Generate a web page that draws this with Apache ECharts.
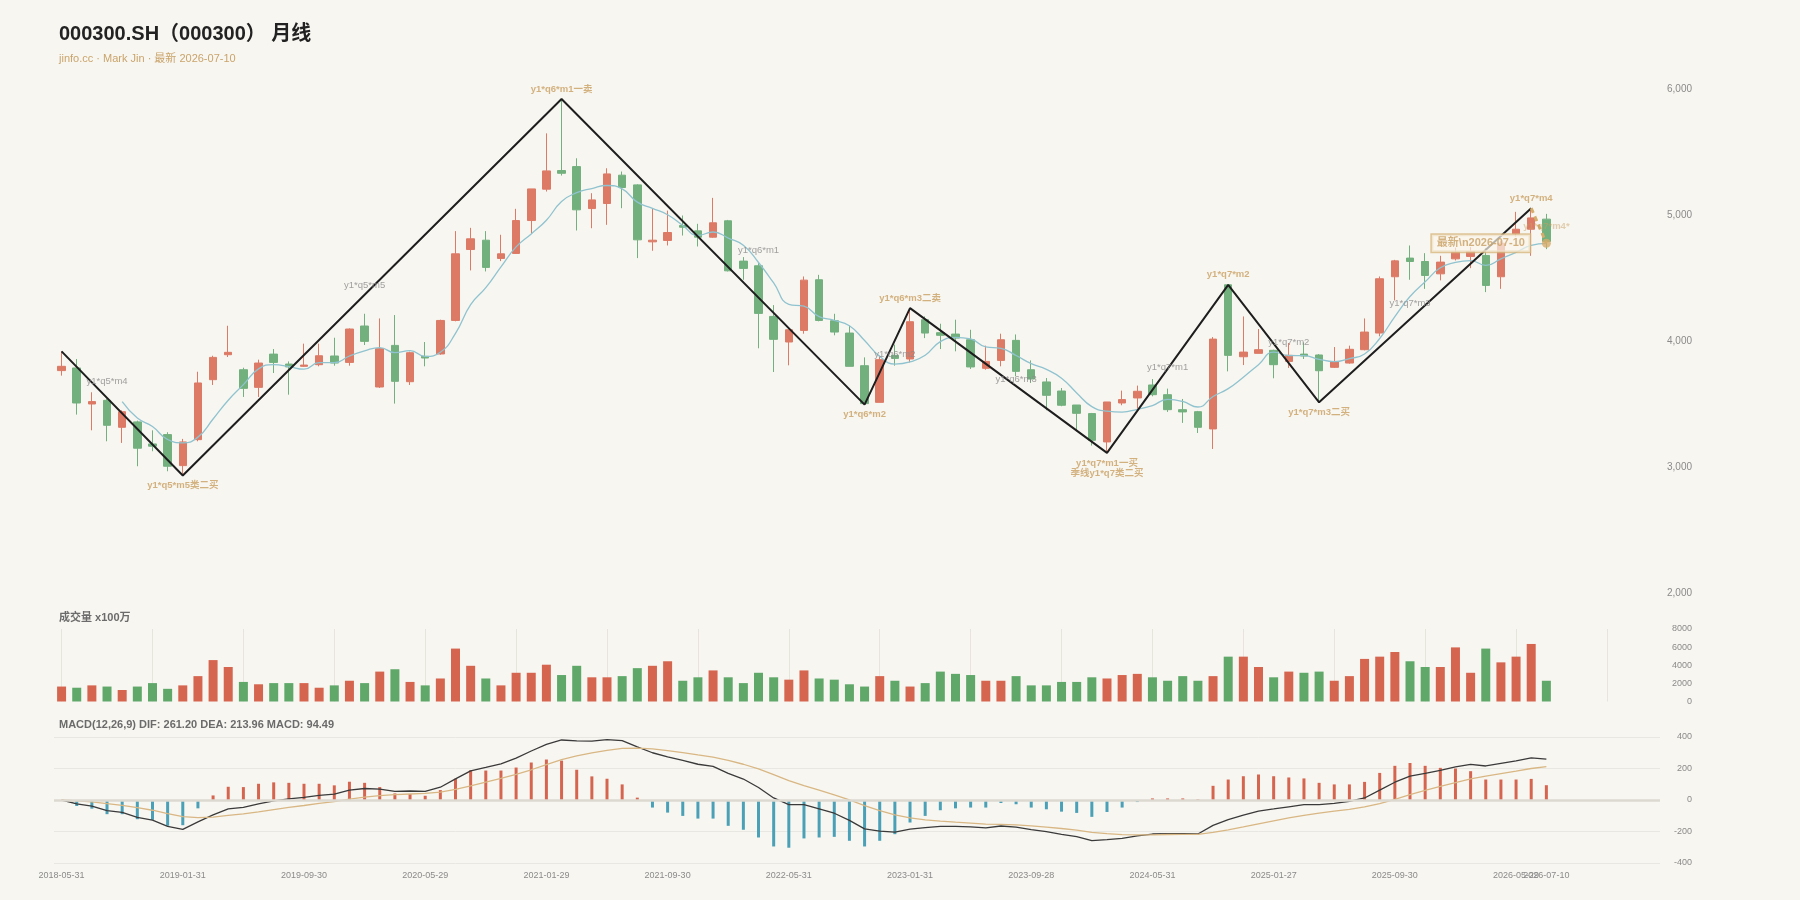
<!DOCTYPE html>
<html>
<head>
<meta charset="utf-8">
<title>000300.SH 月线</title>
<script src="https://cdn.jsdelivr.net/npm/echarts@6/dist/echarts.min.js"></script>
<style>
  html, body { margin: 0; padding: 0; background: #f8f6f1; }
  #chart { width: 1800px; height: 900px; }
</style>
</head>
<body>
<div id="chart"></div>
<script>
// 月线日期
const dates = [
  '2018-05-31','2018-06-29','2018-07-31','2018-08-31','2018-09-28','2018-10-31','2018-11-30','2018-12-28',
  '2019-01-31','2019-02-28','2019-03-29','2019-04-30','2019-05-31','2019-06-28','2019-07-31','2019-08-30',
  '2019-09-30','2019-10-31','2019-11-29','2019-12-31','2020-01-23','2020-02-28','2020-03-31','2020-04-30',
  '2020-05-29','2020-06-30','2020-07-31','2020-08-31','2020-09-30','2020-10-30','2020-11-30','2020-12-31',
  '2021-01-29','2021-02-26','2021-03-31','2021-04-30','2021-05-31','2021-06-30','2021-07-30','2021-08-31',
  '2021-09-30','2021-10-29','2021-11-30','2021-12-31','2022-01-28','2022-02-28','2022-03-31','2022-04-29',
  '2022-05-31','2022-06-30','2022-07-29','2022-08-31','2022-09-30','2022-10-31','2022-11-30','2022-12-30',
  '2023-01-31','2023-02-28','2023-03-31','2023-04-28','2023-05-31','2023-06-30','2023-07-31','2023-08-31',
  '2023-09-28','2023-10-31','2023-11-30','2023-12-29','2024-01-31','2024-02-29','2024-03-29','2024-04-30',
  '2024-05-31','2024-06-28','2024-07-31','2024-08-30','2024-09-30','2024-10-31','2024-11-29','2024-12-31',
  '2025-01-27','2025-02-28','2025-03-31','2025-04-30','2025-05-30','2025-06-30','2025-07-31','2025-08-29',
  '2025-09-30','2025-10-31','2025-11-28','2025-12-31','2026-01-30','2026-02-27','2026-03-31','2026-04-30',
  '2026-05-29','2026-06-30','2026-07-10'
];

// [开, 收, 低, 高]
const candles = [
  [3769,3803,3729,3922],[3790,3512,3420,3861],[3504,3523,3295,3597],[3533,3335,3208,3544],
  [3319,3443,3195,3454],[3362,3153,3010,3372],[3187,3169,3129,3295],[3261,3010,2970,3280],
  [3015,3203,2936,3227],[3221,3671,3208,3760],[3697,3874,3655,3887],[3895,3914,3877,4125],
  [3776,3628,3560,3792],[3636,3829,3560,3856],[3900,3834,3750,3940],[3821,3798,3578,3842],
  [3803,3813,3798,3983],[3816,3887,3803,3983],[3885,3829,3808,4030],[3834,4099,3808,4104],
  [4123,4001,3972,4220],[3639,3943,3631,4183],[3969,3684,3507,4210],[3681,3911,3655,3919],
  [3882,3869,3803,3996],[3901,4167,3895,4173],[4167,4696,4160,4876],[4730,4815,4564,4902],
  [4804,4588,4556,4876],[4659,4696,4638,4847],[4699,4960,4696,5053],[4960,5211,4854,5211],
  [5209,5354,5190,5652],[5357,5335,5317,5925],[5388,5045,4881,5454],[5055,5124,4899,5177],
  [5095,5330,4926,5375],[5320,5222,5058,5349],[5243,4807,4662,5248],[4791,4804,4720,5058],
  [4802,4865,4762,5039],[4921,4907,4841,5000],[4878,4828,4754,4934],[4828,4942,4823,5140],
  [4958,4561,4556,4965],[4638,4580,4490,4670],[4601,4223,3946,4622],[4199,4017,3758,4289],
  [3996,4093,3811,4096],[4088,4487,4062,4516],[4490,4167,4160,4529],[4165,4075,4049,4220],
  [4067,3803,3803,4125],[3808,3507,3499,3874],[3517,3856,3517,3887],[3890,3866,3808,3975],
  [3861,4157,3834,4265],[4173,4067,4027,4199],[4070,4049,3940,4141],[4059,4027,3922,4173],
  [4014,3798,3782,4093],[3787,3842,3776,3967],[3850,4014,3803,4062],[4009,3763,3724,4056],
  [3776,3702,3671,3850],[3679,3573,3454,3710],[3607,3494,3486,3631],[3496,3430,3288,3496],
  [3428,3216,3174,3433],[3203,3520,3116,3520],[3512,3539,3494,3610],[3552,3605,3467,3650],
  [3655,3578,3565,3702],[3578,3459,3441,3626],[3459,3441,3354,3544],[3443,3319,3274,3449],
  [3306,4019,3147,4035],[4450,3890,3763,4450],[3879,3916,3813,4199],[3906,3935,3906,4099],
  [3930,3816,3708,3935],[3842,3890,3790,3988],[3900,3885,3861,3993],[3893,3768,3517,3900],
  [3795,3840,3790,3956],[3829,3938,3824,3967],[3935,4075,3930,4183],[4067,4498,4041,4516],
  [4514,4640,4326,4648],[4662,4635,4490,4762],[4635,4524,4418,4701],[4537,4630,4485,4680],
  [4656,4709,4643,4745],[4675,4714,4582,4750],[4683,4445,4392,4741],[4514,4780,4418,4800],
  [4854,4891,4833,5029],[4891,4981,4680,5058],[4971,4794,4733,5013]
];

// 成交量 x100万
const volumes = [
  1650,1520,1780,1650,1270,1650,2030,1400,1780,2800,4570,3810,2160,1900,2030,2030,
  2030,1520,1780,2290,2030,3300,3560,2160,1780,2540,5840,3940,2540,1780,3170,3170,
  4060,2920,3940,2670,2670,2800,3680,3940,4440,2290,2670,3430,2670,2030,3170,2670,
  2410,3430,2540,2410,1900,1650,2800,2290,1650,2030,3300,3050,2920,2290,2290,2800,
  1780,1780,2160,2160,2670,2540,2920,3050,2670,2290,2800,2290,2800,4950,4950,3810,
  2670,3300,3170,3300,2290,2800,4700,4950,5460,4440,3810,3810,5970,3170,5840,4320,
  4950,6350,2290
];

// MA5
const ma5 = [
  null,null,null,null,3523,3393,3325,3222,3196,3241,3385,3534,3658,3783,3816,3801,
  3780,3832,3832,3885,3926,3952,3911,3928,3882,3915,4065,4292,4427,4592,4751,4854,
  4962,5111,5181,5214,5238,5211,5106,5057,5006,4921,4842,4869,4821,4764,4627,4465,
  4295,4280,4197,4168,4125,4008,3882,3821,3838,3891,3999,4033,4020,3957,3946,3889,
  3824,3779,3709,3592,3483,3447,3440,3462,3492,3540,3524,3480,3563,3626,3717,3816,
  3915,3889,3888,3859,3840,3864,3901,4024,4198,4357,4474,4585,4628,4642,4604,4656,
  4708,4762,4778
];

// MACD(12,26,9)
const dif = [
  0,-24,-39,-68,-79,-110,-128,-168,-186,-139,-94,-56,-47,-24,-5,7,
  17,30,37,63,73,69,55,57,55,81,134,185,207,230,266,311,
  353,381,376,374,383,377,337,300,274,251,227,213,169,133,79,13,
  -29,-30,-56,-84,-129,-183,-198,-204,-185,-176,-167,-167,-171,-177,-165,-172,
  -188,-201,-218,-232,-258,-252,-244,-228,-216,-214,-213,-216,-161,-125,-96,-70,
  -57,-43,-29,-29,-22,-9,13,63,113,151,169,188,211,226,216,232,
  248,267,259
];
const dea = [
  0,-5,-12,-23,-34,-49,-65,-86,-106,-112,-109,-98,-88,-75,-61,-47,
  -35,-22,-10,5,18,28,34,38,42,50,67,90,114,137,163,192,
  225,256,280,299,315,328,330,324,314,301,286,272,251,227,198,161,
  123,92,63,33,1,-36,-68,-95,-113,-126,-134,-141,-147,-153,-155,-158,
  -164,-172,-181,-191,-205,-214,-220,-222,-221,-219,-218,-218,-206,-190,-171,-151,
  -132,-114,-97,-83,-71,-59,-44,-23,4,34,61,86,111,134,151,167,
  183,200,212
];
const macdHist = [
  0,-38,-55,-90,-90,-122,-126,-164,-160,-53,29,84,82,103,112,109,
  103,103,93,116,109,82,42,38,27,63,135,189,187,187,206,238,
  257,250,192,150,135,99,15,-48,-80,-101,-118,-118,-164,-189,-238,-295,
  -303,-244,-238,-234,-259,-295,-259,-217,-143,-101,-65,-53,-48,-48,-19,-27,
  -48,-59,-74,-82,-107,-76,-48,-13,10,10,10,4,90,130,151,162,
  151,143,137,109,99,99,115,172,217,235,217,204,200,183,130,130,
  130,134,94
];

// 笔的端点 [序号, 价格, 标注, 位置]
const pivots = [
  [0, 3922, '', 'top'],
  [8, 2936, 'y1*q5*m5类二买', 'bottom'],
  [33, 5925, 'y1*q6*m1一卖', 'top'],
  [53, 3499, 'y1*q6*m2', 'bottom'],
  [56, 4265, 'y1*q6*m3二卖', 'top'],
  [69, 3116, 'y1*q7*m1一买\n季线y1*q7类二买', 'bottom'],
  [77, 4450, 'y1*q7*m2', 'top'],
  [83, 3517, 'y1*q7*m3二买', 'bottom'],
  [97, 5058, 'y1*q7*m4', 'top']
];
// 未完成的一笔
const pendingStroke = [[97, 5058], [98, 4780]];
const pendingNote = [98, 4910, 'y1*q7*m4*'];

// 笔的名称
const segNotes = [
  [3, 3681, 'y1*q5*m4'],
  [20, 4442, 'y1*q5*m5'],
  [46, 4720, 'y1*q6*m1'],
  [55, 3895, 'y1*q6*m2'],
  [63, 3697, 'y1*q6*m3'],
  [73, 3792, 'y1*q7*m1'],
  [81, 3990, 'y1*q7*m2'],
  [89, 4300, 'y1*q7*m3']
];

const latestLabel = '最新\\n2026-07-10';

const UP = '#dc7a66';
const DOWN = '#72b07e';
const VOL_UP = '#d6654f';
const VOL_DOWN = '#5fa86a';
const TAN = '#c9a063';
const FONT = '"Liberation Sans", Arial, "Noto Sans CJK SC", sans-serif';

const categories = dates.concat(['', '', '', '', '', '', '']);
const lastIdx = dates.length - 1;

const volData = volumes.map((v, i) => ({
  value: v,
  itemStyle: { color: candles[i][1] >= candles[i][0] ? VOL_UP : VOL_DOWN }
}));
const histData = macdHist.map(v => ({
  value: v,
  itemStyle: { color: v >= 0 ? VOL_UP : '#4aa0b6' }
}));

const chart = echarts.init(document.getElementById('chart'));

const gridL = 54, gridR = 140;
const dateLabel = { show: true, color: '#8a8a8a', fontSize: 9, fontFamily: FONT, margin: 8, hideOverlap: false };

const catAxis = (gridIndex, extra) => Object.assign({
  type: 'category',
  gridIndex,
  data: categories,
  boundaryGap: true,
  axisLine: { show: false },
  axisTick: { show: false },
  axisLabel: { show: false },
  splitLine: { show: false },
  axisPointer: { show: false }
}, extra);

const yLabel = (size, extra) => Object.assign({
  color: '#8a8a8a', fontSize: size, fontFamily: FONT, margin: 32, align: 'right'
}, extra);

const valAxis = (gridIndex, extra) => Object.assign({
  type: 'value',
  gridIndex,
  position: 'right',
  axisLine: { show: false },
  axisTick: { show: false },
  splitLine: { show: false }
}, extra);

const option = {
  animation: false,
  backgroundColor: '#f8f6f1',
  textStyle: { fontFamily: FONT },
  title: [
    {
      text: '000300.SH（000300） 月线',
      subtext: 'jinfo.cc · Mark Jin · 最新 2026-07-10',
      left: 59, top: 24, padding: 0, itemGap: 9,
      textStyle: { fontSize: 20, fontWeight: 'bold', color: '#222', fontFamily: FONT },
      subtextStyle: { fontSize: 11, color: '#c9a46b', fontFamily: FONT }
    },
    {
      text: '成交量 x100万',
      left: 59, top: 612, padding: 0,
      textStyle: { fontSize: 11, fontWeight: 'bold', color: '#6b6b6b', fontFamily: FONT }
    },
    {
      text: 'MACD(12,26,9) DIF: 261.20 DEA: 213.96 MACD: 94.49',
      left: 59, top: 719, padding: 0,
      textStyle: { fontSize: 11, fontWeight: 'bold', color: '#6b6b6b', fontFamily: FONT }
    }
  ],
  grid: [
    { left: gridL, right: gridR, top: 89.5, height: 504 },
    { left: gridL, right: gridR, top: 629, height: 72.5 },
    { left: gridL, right: gridR, top: 737, height: 126 }
  ],
  xAxis: [
    catAxis(0),
    catAxis(1, {
      splitLine: { show: true, interval: 5, alignWithLabel: true, lineStyle: { color: '#e7e4dd', width: 1 } }
    }),
    catAxis(2, {
      position: 'bottom',
      axisLabel: Object.assign({}, dateLabel, { interval: (idx) => idx % 8 === 0 && idx < lastIdx })
    }),
    // 最后一根的日期单独一条轴，以免被重叠检测隐藏
    catAxis(2, {
      position: 'bottom',
      offset: 0,
      axisLabel: Object.assign({}, dateLabel, { interval: (idx) => idx === lastIdx })
    })
  ],
  yAxis: [
    valAxis(0, { min: 2000, max: 6000, interval: 1000, axisLabel: yLabel(10) }),
    valAxis(1, { min: 0, max: 8000, interval: 2000, axisLabel: yLabel(9, { formatter: v => String(v) }) }),
    valAxis(2, { min: -400, max: 400, interval: 200, axisLabel: yLabel(9),
      splitLine: { show: true, lineStyle: { color: '#e9e7e1', width: 1 } } })
  ],
  series: [
    {
      type: 'candlestick',
      xAxisIndex: 0, yAxisIndex: 0,
      data: candles,
      barWidth: 8,
      itemStyle: { color: UP, color0: DOWN, borderColor: UP, borderColor0: DOWN, borderWidth: 1 }
    },
    {
      type: 'line',
      xAxisIndex: 0, yAxisIndex: 0,
      data: ma5,
      smooth: true,
      symbol: 'none',
      lineStyle: { color: '#8fc3cf', width: 1.3 }
    },
    {
      type: 'line',
      xAxisIndex: 0, yAxisIndex: 0,
      data: pivots.map(p => [p[0], p[1]]),
      symbol: 'none',
      lineStyle: { color: '#1e1e1e', width: 2 },
      z: 5
    },
    {
      type: 'line',
      xAxisIndex: 0, yAxisIndex: 0,
      data: pendingStroke,
      symbol: 'none',
      lineStyle: { color: '#d2ad6c', width: 3, type: [5, 4] },
      z: 5
    },
    {
      type: 'scatter',
      xAxisIndex: 0, yAxisIndex: 0,
      symbolSize: 0,
      silent: true,
      data: pivots.filter(p => p[2]).map(p => ({
        name: p[2],
        value: [p[0], p[1]],
        label: { position: p[3] }
      })),
      label: {
        show: true, formatter: '{b}', distance: 5,
        color: TAN, fontSize: 9.5, fontWeight: 'bold', fontFamily: FONT, lineHeight: 10, align: 'center'
      },
      z: 6
    },
    {
      type: 'scatter',
      xAxisIndex: 0, yAxisIndex: 0,
      symbolSize: 0,
      silent: true,
      data: segNotes.map(s => ({ name: s[2], value: [s[0], s[1]] })).concat([{
        name: pendingNote[2],
        value: [pendingNote[0], pendingNote[1]],
        label: { color: 'rgba(201,160,99,0.6)', fontWeight: 'bold' }
      }]),
      label: { show: true, position: 'inside', formatter: '{b}', color: '#8a8a8a', fontSize: 9.5, fontFamily: FONT },
      z: 6
    },
    {
      type: 'scatter',
      xAxisIndex: 0, yAxisIndex: 0,
      symbol: 'circle',
      symbolSize: 9,
      silent: true,
      itemStyle: { color: '#d4ab6b' },
      data: [pendingStroke[1]],
      label: {
        show: true, position: 'left', distance: 12,
        formatter: latestLabel,
        color: TAN, fontSize: 11, fontWeight: 'bold', fontFamily: FONT,
        backgroundColor: 'rgba(250,246,236,0.85)',
        borderColor: '#d7b77e', borderWidth: 1.5, padding: [3, 5]
      },
      z: 7
    },
    {
      type: 'bar',
      xAxisIndex: 1, yAxisIndex: 1,
      data: volData,
      barWidth: 9
    },
    {
      type: 'bar',
      xAxisIndex: 2, yAxisIndex: 2,
      data: histData,
      barWidth: 3,
      markLine: {
        silent: true,
        symbol: ['none', 'none'],
        label: { show: false },
        lineStyle: { color: '#dcd9d1', width: 2.5, type: 'solid' },
        data: [{ yAxis: 0 }]
      }
    },
    {
      type: 'line',
      xAxisIndex: 2, yAxisIndex: 2,
      data: dif,
      symbol: 'none',
      lineStyle: { color: '#3a3a3a', width: 1.3 },
      z: 4
    },
    {
      type: 'line',
      xAxisIndex: 2, yAxisIndex: 2,
      data: dea,
      symbol: 'none',
      lineStyle: { color: '#d8b784', width: 1.3 },
      z: 4
    }
  ]
};

chart.setOption(option);
window.addEventListener('resize', () => chart.resize());
</script>
</body>
</html>
